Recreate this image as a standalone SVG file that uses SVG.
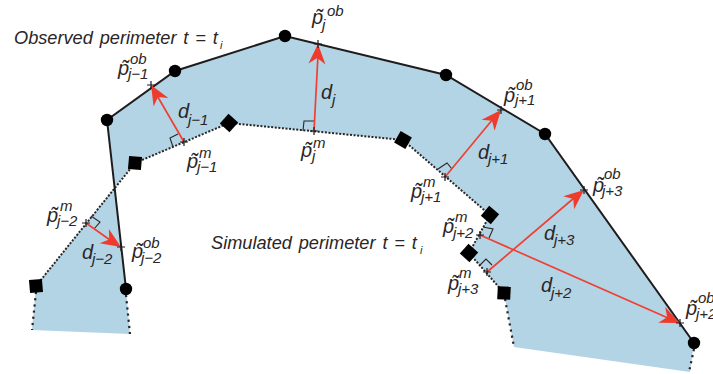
<svg xmlns="http://www.w3.org/2000/svg" width="713" height="374" viewBox="0 0 713 374">
<style>
text{font-family:"Liberation Sans",Arial,sans-serif;font-style:italic;fill:#2a2627}
.m{font-size:20px}.s{font-size:15px}.t{font-size:18.2px;word-spacing:1.8px}.i{font-size:11px}
.area{fill:#b3d4e4;stroke:none}
.ob{fill:none;stroke:#1f1c1d;stroke-width:2}
.sim{fill:none;stroke:#2a2627;stroke-width:2;stroke-dasharray:2 1.6}
.simd{fill:none;stroke:#2a2627;stroke-width:2.2;stroke-dasharray:2.2 4}
.ra{fill:none;stroke:#2a2627;stroke-width:1.1}
.cr{stroke:#1f1c1d;stroke-width:1.2;fill:none}
.d{stroke:#ee4034;stroke-width:1.7;fill:none}
.ah{fill:#ee3b2e;stroke:none}
.dot{fill:#000}.sq{fill:#000}
</style>
<defs>
<path id="x" class="cr" d="M-4 0H4M0-4V4"/>
<path id="h" class="ah" d="M0 0L-20-8.5L-14 0L-20 8.5Z"/>
<circle id="c" class="dot" r="6.2"/>
<rect id="r" class="sq" x="-6.5" y="-6.5" width="13" height="13"/>
</defs>
<g id="area">
<polygon class="area" points="32,330 36,286 115,187 126,289 130,334"/>
<polygon class="area" points="115,187 107,120 175,71 285,36 446,75 545,134 694,343 690,372 514,347 504,293 469,253 490,215 403,140 229,123 135,163"/>
</g>
<g id="connectors">
<polyline class="ob" points="126,289 107,120 175,71 285,36 446,75 545,134 694,343"/>
<polyline class="sim" points="36,286 135,163 229,123 403,140 490,215 469,253 504,293"/>
<path class="simd" d="M36 292L32 330M126 295L130 334M505 299L514 347M694 349L689 372"/>
<path class="ra" d="M173 147L170 138L178 134M303 131L304 121L314 121M438 169L447 163L452 169M480 265L486 259L492 265M483 227L493 229L489 238M91 216L100 222L94 229"/>
<path class="d" d="M184 142L155 92M314 131L318 55M445 177L493 119M487 272L574 198M480 235L668 318M86 223L110 240"/>
<use href="#h" transform="translate(151,85) rotate(-120)"/>
<use href="#h" transform="translate(318,44) rotate(-87)"/>
<use href="#h" transform="translate(501,110) rotate(-50)"/>
<use href="#h" transform="translate(584,190) rotate(-40)"/>
<use href="#h" transform="translate(680,323) rotate(24)"/>
<use href="#h" transform="translate(121,247) rotate(33)"/>
</g>
<g id="n-ob1"><use href="#c" x="126" y="289"/></g>
<g id="n-ob2"><use href="#c" x="107" y="120"/></g>
<g id="n-ob3"><use href="#c" x="175" y="71"/></g>
<g id="n-ob4"><use href="#c" x="285" y="36"/></g>
<g id="n-ob5"><use href="#c" x="446" y="75"/></g>
<g id="n-ob6"><use href="#c" x="545" y="134"/></g>
<g id="n-ob7"><use href="#c" x="694" y="343"/></g>
<g id="n-sim1"><use href="#r" transform="translate(36,286) rotate(-5)"/></g>
<g id="n-sim2"><use href="#r" transform="translate(135,163) rotate(5)"/></g>
<g id="n-sim3"><use href="#r" transform="translate(229,123) rotate(42)"/></g>
<g id="n-sim4"><use href="#r" transform="translate(403,140) rotate(30)"/></g>
<g id="n-sim5"><use href="#r" transform="translate(490,215) rotate(40)"/></g>
<g id="n-sim6"><use href="#r" transform="translate(469,253) rotate(42)"/></g>
<g id="n-sim7"><use href="#r" transform="translate(504,293) rotate(3)"/></g>
<g id="n-j-1ob"><use href="#x" x="151" y="85"/><text class="m" x="118" y="75">p̃</text><text class="s" x="130" y="64">ob</text><text class="s" x="128" y="79">j−1</text></g>
<g id="n-j-1m"><use href="#x" x="184" y="142"/><text class="m" x="187" y="168">p̃</text><text class="s" x="199" y="158">m</text><text class="s" x="197" y="172">j−1</text></g>
<g id="n-job"><use href="#x" x="318" y="44"/><text class="m" x="312" y="24">p̃</text><text class="s" x="327" y="16">ob</text><text class="s" x="322" y="30">j</text></g>
<g id="n-jm"><use href="#x" x="314" y="131"/><text class="m" x="301" y="157">p̃</text><text class="s" x="313" y="148">m</text><text class="s" x="312" y="161">j</text></g>
<g id="n-j+1ob"><use href="#x" x="501" y="110"/><text class="m" x="504" y="102">p̃</text><text class="s" x="516" y="90">ob</text><text class="s" x="515" y="105">j+1</text></g>
<g id="n-j+1m"><use href="#x" x="445" y="177"/><text class="m" x="411" y="198">p̃</text><text class="s" x="423" y="187">m</text><text class="s" x="421" y="202">j+1</text></g>
<g id="n-j+3ob"><use href="#x" x="584" y="190"/><text class="m" x="593" y="192">p̃</text><text class="s" x="604" y="179">ob</text><text class="s" x="602" y="196">j+3</text></g>
<g id="n-j+2m"><use href="#x" x="480" y="235"/><text class="m" x="443" y="233">p̃</text><text class="s" x="455" y="222">m</text><text class="s" x="453" y="238">j+2</text></g>
<g id="n-j+3m"><use href="#x" x="487" y="272"/><text class="m" x="448" y="290">p̃</text><text class="s" x="459" y="278">m</text><text class="s" x="458" y="294">j+3</text></g>
<g id="n-j+2ob"><use href="#x" x="680" y="323"/><text class="m" x="686" y="315">p̃</text><text class="s" x="698" y="303">ob</text><text class="s" x="696" y="319">j+2</text></g>
<g id="n-j-2m"><use href="#x" x="86" y="223"/><text class="m" x="47" y="222">p̃</text><text class="s" x="60" y="211">m</text><text class="s" x="57" y="226">j−2</text></g>
<g id="n-j-2ob"><use href="#x" x="121" y="247"/><text class="m" x="132" y="258">p̃</text><text class="s" x="143" y="248">ob</text><text class="s" x="141" y="263">j−2</text></g>
<g id="labels">
<text class="t" x="14" y="44">Observed perimeter t = t</text><text class="i" x="220" y="49">i</text>
<text class="t" x="211" y="249">Simulated perimeter t = t</text><text class="i" x="420" y="254">i</text>
<text class="m" x="178" y="118">d</text><text class="s" x="188" y="125">j−1</text>
<text class="m" x="321" y="99">d</text><text class="s" x="332" y="105">j</text>
<text class="m" x="478" y="159">d</text><text class="s" x="488" y="164">j+1</text>
<text class="m" x="544" y="240">d</text><text class="s" x="554" y="245">j+3</text>
<text class="m" x="541" y="292">d</text><text class="s" x="551" y="298">j+2</text>
<text class="m" x="82" y="259">d</text><text class="s" x="92" y="264">j−2</text>
</g>
</svg>
